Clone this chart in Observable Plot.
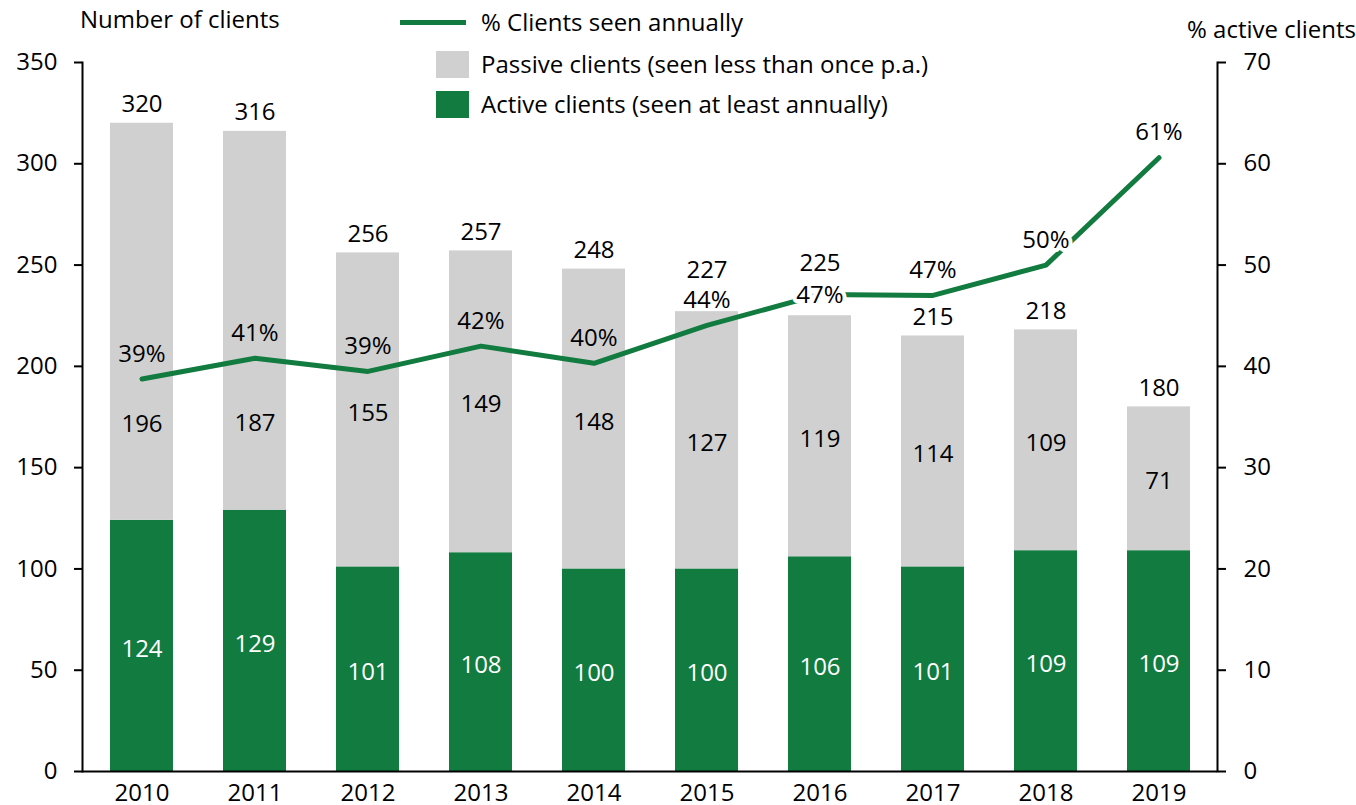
<!DOCTYPE html>
<html><head><meta charset="utf-8">
<script src="https://cdn.jsdelivr.net/npm/d3@7"></script>
<script src="https://cdn.jsdelivr.net/npm/@observablehq/plot@0.6"></script>
<style>
body{margin:0;background:#fff;font-family:"Open Sans",sans-serif;}
#wrap{position:relative;width:1356px;height:805px;overflow:hidden;}
#wrap svg{position:absolute;left:0;top:0;}
.t{position:absolute;font-size:24px;color:#000;white-space:nowrap;line-height:24px;font-family:"Open Sans",sans-serif;}
.sw{position:absolute;}
</style></head><body><div id="wrap"></div>
<script>
const years = ["2010","2011","2012","2013","2014","2015","2016","2017","2018","2019"];
const activeClients = [124,129,101,108,100,100,106,101,109,109];
const passiveClients = [196,187,155,149,148,127,119,114,109,71];
const totalClients = [320,316,256,257,248,227,225,215,218,180];
const pctSeen = [38.75,40.8,39.5,42.0,40.3,44.05,47.1,47.0,50.0,60.6];
const pctLabels = ["39%","41%","39%","42%","40%","44%","47%","47%","50%","61%"];
const leftTicks = [0,50,100,150,200,250,300,350];
const rightTicks = [0,10,20,30,40,50,60,70];

const GREEN = "#127B3F";
const GRAY = "#D0D0D0";
const FS = 24;
const K = 350 / 70; // right axis -> left axis units

const rows = years.map((year, i) => ({
  year, active: activeClients[i], passive: passiveClients[i],
  total: totalClients[i], pct: pctSeen[i], pctLabel: pctLabels[i]
}));

// label placement tweaks (as in the original layout)
const totalDy = {"2015": -41, "2016": -52};
const shiftedPassive = new Set(["2010","2011"]);
const labelOnLine = new Set(["2016"]);
const haloLabels = new Set(["2016","2018"]);

const chart = Plot.plot({
  width: 1356, height: 805,
  marginTop: 62, marginBottom: 34, marginLeft: 82, marginRight: 139,
  style: {fontFamily: "Open Sans", fontSize: FS + "px", background: "transparent", color: "#000"},
  x: {domain: years, paddingInner: 0.445, paddingOuter: 0.2225, label: null},
  y: {domain: [0, 350], label: null},
  marks: [
    Plot.barY(rows, {x: "year", y1: 0, y2: "active", fill: GREEN}),
    Plot.barY(rows, {x: "year", y1: "active", y2: "total", fill: GRAY}),
    Plot.frame({anchor: "left", stroke: "#000", strokeWidth: 2}),
    Plot.frame({anchor: "right", stroke: "#000", strokeWidth: 2}),
    Plot.ruleY([0], {stroke: "#000", strokeWidth: 2}),
    Plot.axisY(leftTicks, {anchor: "left", tickSize: 8, tickPadding: 17, strokeWidth: 2, fontSize: FS, label: null}),
    Plot.axisY(rightTicks.map(d => d * K), {anchor: "right", tickSize: 8, tickPadding: 18, strokeWidth: 2, fontSize: FS, tickFormat: d => String(Math.round(d / K)), label: null}),
    Plot.axisX({tickSize: 0, tickPadding: 12, fontSize: FS, label: null}),
    Plot.line(rows, {x: "year", y: d => d.pct * K, stroke: GREEN, strokeWidth: 5, strokeLinecap: "round", strokeLinejoin: "round"}),
    ...rows.map(d => Plot.text([d], {x: "year", y: "total", text: r => String(r.total), dy: totalDy[d.year] ?? -19, fontSize: FS, fill: "#000"})),
    Plot.text(rows, {x: "year", y: d => d.active / 2, text: d => String(d.active), dy: 3, fontSize: FS, fill: "#fff"}),
    Plot.text(rows.filter(d => !shiftedPassive.has(d.year)), {x: "year", y: d => (d.active + d.total) / 2, text: d => String(d.passive), dy: 3, fontSize: FS, fill: "#000"}),
    Plot.text(rows.filter(d => shiftedPassive.has(d.year)), {x: "year", y: d => (d.active + d.total) / 2, text: d => String(d.passive), dy: 103, fontSize: FS, fill: "#000"}),
    Plot.text(rows.filter(d => !labelOnLine.has(d.year) && !haloLabels.has(d.year)), {x: "year", y: d => d.pct * K, text: "pctLabel", dy: -25, fontSize: FS, fill: "#000"}),
    Plot.text(rows.filter(d => !labelOnLine.has(d.year) && haloLabels.has(d.year)), {x: "year", y: d => d.pct * K, text: "pctLabel", dy: -25, fontSize: FS, fill: "#000", stroke: "#fff", strokeWidth: 8}),
    Plot.text(rows.filter(d => labelOnLine.has(d.year)), {x: "year", y: d => d.pct * K, text: "pctLabel", dy: 1, fontSize: FS, fill: "#000", stroke: "#fff", strokeWidth: 8})
  ]
});

const wrap = document.getElementById("wrap");
wrap.appendChild(chart);

function addText(txt, left, centerY) {
  const el = document.createElement("div");
  el.className = "t";
  el.textContent = txt;
  el.style.left = left + "px";
  el.style.top = (centerY - 13) + "px";
  wrap.appendChild(el);
  return el;
}
function addSwatch(left, top, w, h, color) {
  const el = document.createElement("div");
  el.className = "sw";
  Object.assign(el.style, {left: left + "px", top: top + "px", width: w + "px", height: h + "px", background: color});
  wrap.appendChild(el);
}

addText("Number of clients", 80, 20);
addText("% active clients", 1187, 30);

addSwatch(400, 20, 66, 5, GREEN);
addText("% Clients seen annually", 481, 23);
addSwatch(436, 51, 33, 27, GRAY);
addText("Passive clients (seen less than once p.a.)", 481, 65);
addSwatch(436, 91, 33, 27, GREEN);
addText("Active clients (seen at least annually)", 481, 105);
</script></body></html>
